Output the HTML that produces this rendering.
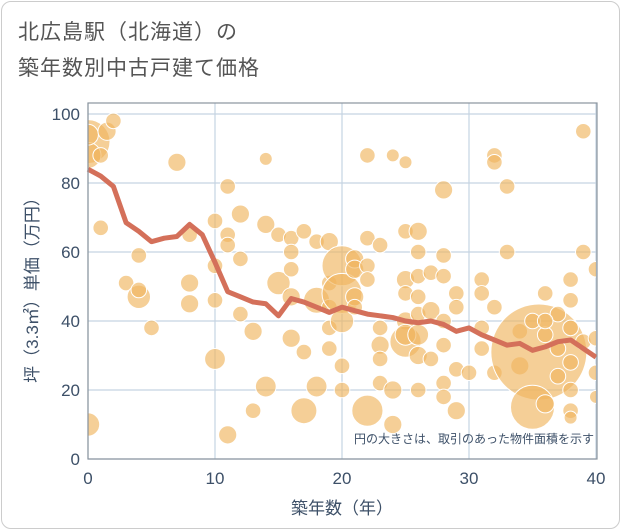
<!DOCTYPE html>
<html><head><meta charset="utf-8"><style>
body{margin:0;background:#fff;font-family:"Liberation Sans","Noto Sans CJK JP",sans-serif}
#wrap{position:relative;width:621px;height:530px;overflow:hidden}
#frame{position:absolute;left:1px;top:1px;width:617px;height:526px;border:1px solid #ccc;border-radius:10px}
.title{position:absolute;left:18px;font-size:21px;color:#555;letter-spacing:1px}
</style></head><body>
<div id="wrap">
<div id="frame"></div>
<div class="title" style="top:16px">北広島駅（北海道）の</div>
<div class="title" style="top:52px">築年数別中古戸建て価格</div>
<svg id="chart" width="621" height="530" style="position:absolute;left:0;top:0"></svg>
</div>
<script>
const bubbleX=[0,0,0,1,1.5,2,0,1,3,4,4,4,5,7,8,8,8,10,10,10,10,11,11,11,11,12,12,12,13,13,14,14,14,15,15,16,16,16,16,16,17,17,17,18,18,18,19,19,19,19,19,20,20,20,20,20,21,21,21,21,22,22,22,22,22,23,23,23,23,23,24,24,24,25,25,25,25,25,25,25,26,26,26,26,26,26,26,26,27,27,27,28,28,28,28,28,28,28,29,29,29,29,30,31,31,31,31,32,32,32,32,33,33,34,34,35.5,35,35,36,36,37,37,38,38,38,38,38,38,38,39,39,39,40,40,40,40,36,36,37];
const bubbleY=[92,88,94,88,95,98,10,67,51,59,47,49,38,86,65,51,45,69,56,46,29,79,65,62,7,71,58,42,37,14,87,68,21,65,51,64,60,55,47,35,66,31,14,63,46,21,63,51,44,38,32,56,48,40,27,20,58,55,47,44,14,88,64,56,52,62,38,33,29,22,88,20,10,86,66,52,48,40,34,36,66,60,53,47,42,36,30,20,43,54,29,78,59,53,40,33,22,18,48,44,26,14,25,52,48,38,32,88,86,44,25,79,60,37,27,31,15,40,48,36,32,42,52,46,38,28,20,14,12,95,60,34,55,35,25,18,16,40,24];
const bubbleR=[22,10,8,6,7,6,9,6,6,6,9,6,6,7,6,7,7,6,6,6,8,6,6,6,7,7,6,6,7,6,5,7,8,6,9,6,6,6,7,7,6,6,10,6,10,8,7,6,6,6,6,20,20,9,6,6,7,7,7,6,12,6,6,6,6,6,6,7,6,6,5,7,7,5,6,7,6,7,12,8,7,6,6,6,6,8,7,6,7,6,6,7,6,6,6,6,6,6,6,6,6,7,6,6,6,6,6,6,6,6,6,6,6,6,7,48,22,6,6,6,6,6,6,6,6,6,6,6,5,6,6,6,6,6,6,5,7,6,6];
const lineX=[0,1,2,3,4,5,6,7,8,9,10,11,12,13,14,15,16,17,18,19,20,21,22,23,24,25,26,27,28,29,30,31,32,33,34,35,36,37,38,39,40];
const lineY=[84,82,79,68.5,66,63,64,64.5,68,65,57,48.5,47,45.5,45,41.5,46.5,45.5,44,42.5,44,43,42,41.5,41,40,39.5,40,39,37,38,36,34.5,33,33.5,31.5,32.5,34,34.5,32,29.5];
const xTicks=[0,10,20,30,40];
const yTicks=[0,20,40,60,80,100];
const NS="http://www.w3.org/2000/svg";
const svg=document.getElementById('chart');
const X0=88,X1=596,Y0=459,Y1=114;
const sx=v=>X0+(X1-X0)*v/40, sy=v=>Y0-(Y0-Y1)*v/100;
const rs=r=>r>=15?r:r*1.3;
function mk(t,a,p){const e=document.createElementNS(NS,t);for(const k in a)e.setAttribute(k,a[k]);(p||svg).appendChild(e);return e;}
const clip=mk('clipPath',{id:'pc'});mk('rect',{x:X0,y:103,width:X1-X0,height:Y0-103},clip);
yTicks.forEach(v=>{const g=mk('line',{x1:X0,x2:X1,y1:sy(v),y2:sy(v),stroke:'#c5d4e2','stroke-width':1.2});


const t=mk('text',{x:X0-8,y:sy(v)+6,'text-anchor':'end','font-size':17,fill:'#3d5068'});t.textContent=v;

});
xTicks.forEach(v=>{const g=mk('line',{x1:sx(v),x2:sx(v),y1:103,y2:Y0,stroke:'#c5d4e2','stroke-width':1.2});


const t=mk('text',{x:sx(v),y:484,'text-anchor':'middle','font-size':17,fill:'#3d5068'});t.textContent=v;

});
const bg=mk('g',{'clip-path':'url(#pc)'});


bubbleX.forEach((x,i)=>{const c=mk('circle',{cx:sx(x),cy:sy(bubbleY[i]),r:rs(bubbleR[i]),fill:'#f0b560','fill-opacity':0.65,stroke:'#fff','stroke-width':1},bg);

});
const p=mk('polyline',{points:lineX.map((x,i)=>sx(x)+','+sy(lineY[i])).join(' '),fill:'none',stroke:'#d4705a','stroke-width':5,'stroke-linejoin':'round'});


const fr=mk('rect',{x:X0,y:103,width:X1-X0+1,height:Y0-103,fill:'none',stroke:'#8a949e','stroke-width':1.2});


const n=mk('text',{x:594,y:443,'text-anchor':'end','font-size':12,fill:'#3d5068'});n.textContent='円の大きさは、取引のあった物件面積を示す';


const xt=mk('text',{x:342,y:514,'text-anchor':'middle','font-size':17,fill:'#3d5068'});xt.textContent='築年数（年）';


const yt=mk('text',{x:0,y:0,'text-anchor':'middle','font-size':17,fill:'#3d5068',transform:'translate(38,286) rotate(-90)'});yt.textContent='坪（3.3㎡）単価（万円）';


</script>
</body></html>
